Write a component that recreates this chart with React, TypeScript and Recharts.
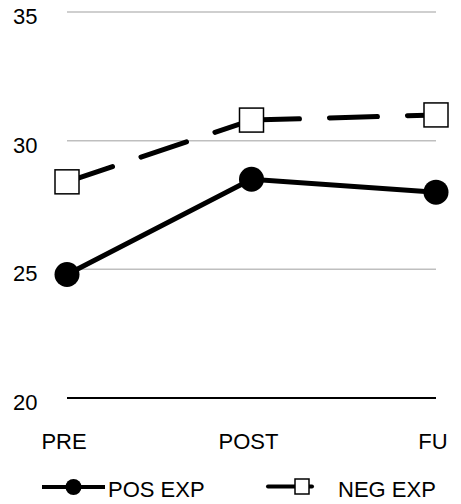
import { CartesianGrid, Line, LineChart, XAxis, YAxis } from "recharts";

const categories = ["PRE", "POST", "FU"];
const posExp = [24.8, 28.5, 28.0];
const negExp = [28.4, 30.8, 31.0];
const yTicks = [20, 25, 30, 35];

const FONT = '"Liberation Sans", Arial, Helvetica, sans-serif';

// neg series is split in two so the dash pattern restarts at every point
const data = categories.map((name, i) => ({
  name,
  pos: posExp[i],
  neg: negExp[i],
  negA: i <= 1 ? negExp[i] : null,
  negB: i >= 1 ? negExp[i] : null,
}));

function YTick({ y, payload }: any) {
  return (
    <text x={13} y={y + 12} fontSize={22} fontFamily={FONT} fill="#000">
      {payload.value}
    </text>
  );
}

function XTick({ x, y, payload }: any) {
  return (
    <text
      x={x - 3}
      y={y + 51}
      textAnchor="middle"
      fontSize={22}
      fontFamily={FONT}
      fill="#000"
    >
      {payload.value}
    </text>
  );
}

function CircleDot({ cx, cy }: any) {
  if (cx == null || cy == null) return null;
  return <circle cx={cx} cy={cy} r={12.5} fill="#000" />;
}

function SquareDot({ cx, cy }: any) {
  if (cx == null || cy == null) return null;
  return (
    <rect
      x={cx - 12}
      y={cy - 12}
      width={24}
      height={24}
      fill="#fff"
      stroke="#000"
      strokeWidth={1.5}
    />
  );
}

export default function App() {
  return (
    <div style={{ position: "absolute", left: 0, top: 0, width: 461, height: 504 }}>
      <LineChart
        width={461}
        height={460}
        data={data}
        margin={{ top: 12, right: 25, left: 0, bottom: 0 }}
      >
        <CartesianGrid vertical={false} stroke="#bfbfbf" strokeWidth={1.5} />
        <YAxis
          width={67}
          domain={[20, 35]}
          ticks={yTicks}
          axisLine={false}
          tickLine={false}
          tick={<YTick />}
        />
        <XAxis
          dataKey="name"
          height={62}
          tickSize={0}
          tickMargin={0}
          tickLine={false}
          axisLine={{ stroke: "#000", strokeWidth: 2 }}
          tick={<XTick />}
        />
        <Line
          dataKey="pos"
          stroke="#000"
          strokeWidth={5}
          dot={<CircleDot />}
          activeDot={false}
          isAnimationActive={false}
        />
        <Line
          dataKey="negA"
          stroke="#000"
          strokeWidth={5}
          strokeDasharray="48 30"
          strokeLinecap="round"
          dot={false}
          activeDot={false}
          isAnimationActive={false}
        />
        <Line
          dataKey="negB"
          stroke="#000"
          strokeWidth={5}
          strokeDasharray="48 30"
          strokeLinecap="round"
          dot={false}
          activeDot={false}
          isAnimationActive={false}
        />
        <Line
          dataKey="neg"
          stroke="none"
          dot={<SquareDot />}
          activeDot={false}
          isAnimationActive={false}
        />
      </LineChart>
      <svg
        width={461}
        height={44}
        style={{ position: "absolute", left: 0, top: 460 }}
      >
        <line x1={42} y1={27} x2={105} y2={27} stroke="#000" strokeWidth={4} />
        <circle cx={73.5} cy={27} r={8} fill="#000" />
        <text x={108} y={37} fontSize={22} fontFamily={FONT} fill="#000">
          POS EXP
        </text>
        <line x1={268} y1={26.5} x2={312} y2={26.5} stroke="#000" strokeWidth={4} strokeLinecap="round" />
        <rect x={295} y={19} width={14} height={15} fill="#fff" stroke="#000" strokeWidth={1.5} />
        <text x={338} y={37} fontSize={22} fontFamily={FONT} fill="#000">
          NEG EXP
        </text>
      </svg>
    </div>
  );
}
